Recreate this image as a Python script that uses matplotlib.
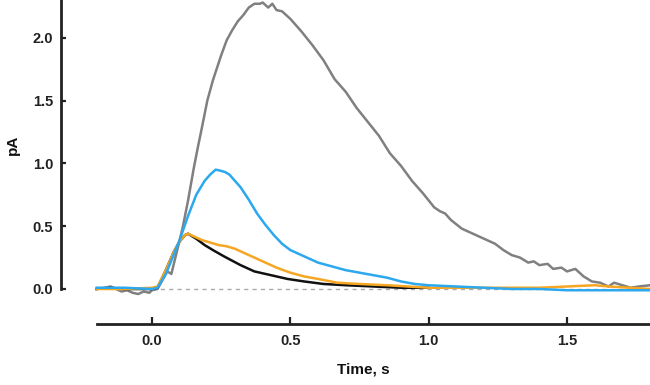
import matplotlib
matplotlib.use("Agg")
import matplotlib.pyplot as plt

# ---- data ----
gray_t = [-0.2, -0.17, -0.15, -0.13, -0.11, -0.09, -0.07, -0.05, -0.03, -0.01, 0.0, 0.02,
          0.04, 0.055, 0.07, 0.09, 0.11, 0.13, 0.15, 0.165, 0.18, 0.20, 0.22, 0.235, 0.25,
          0.27, 0.29, 0.31, 0.33, 0.35, 0.37, 0.39, 0.40, 0.41, 0.42, 0.435, 0.45, 0.47,
          0.50, 0.54, 0.58, 0.62, 0.66, 0.70, 0.74, 0.78, 0.82, 0.86, 0.90, 0.94, 0.98,
          1.02, 1.04, 1.06, 1.08, 1.12, 1.16, 1.20, 1.24, 1.27, 1.30, 1.33, 1.36, 1.38,
          1.40, 1.43, 1.45, 1.48, 1.50, 1.53, 1.56, 1.59, 1.62, 1.65, 1.67, 1.70, 1.73,
          1.76, 1.80]
gray_v = [0.0, 0.01, 0.02, 0.0, -0.02, -0.01, -0.03, -0.04, -0.02, -0.03, -0.01, 0.0,
          0.08, 0.14, 0.12, 0.30, 0.48, 0.70, 0.95, 1.12, 1.28, 1.50, 1.66, 1.76, 1.86,
          1.98, 2.06, 2.13, 2.18, 2.24, 2.27, 2.27, 2.28, 2.26, 2.24, 2.27, 2.22, 2.21,
          2.15, 2.05, 1.94, 1.82, 1.67, 1.57, 1.44, 1.33, 1.22, 1.08, 0.98, 0.86, 0.76,
          0.65, 0.62, 0.60, 0.55, 0.48, 0.44, 0.40, 0.36, 0.31, 0.27, 0.25, 0.21, 0.22,
          0.19, 0.20, 0.16, 0.17, 0.14, 0.16, 0.10, 0.06, 0.05, 0.02, 0.05, 0.03, 0.01,
          0.02, 0.03]

black_t = [-0.2, -0.15, -0.1, 0.0, 0.02, 0.05, 0.08, 0.10, 0.12, 0.13, 0.16, 0.19, 0.22,
           0.26, 0.32, 0.37, 0.43, 0.49, 0.55, 0.62, 0.70, 0.80, 0.90, 1.0]
black_v = [0.0, 0.01, 0.0, 0.0, 0.01, 0.15, 0.30, 0.38, 0.43, 0.44, 0.40, 0.35, 0.31,
           0.26, 0.19, 0.14, 0.11, 0.08, 0.06, 0.04, 0.03, 0.02, 0.01, 0.01]

orange_t = [-0.2, -0.1, 0.0, 0.02, 0.05, 0.08, 0.10, 0.12, 0.13, 0.15, 0.18, 0.21, 0.24,
            0.27, 0.30, 0.35, 0.40, 0.45, 0.50, 0.55, 0.60, 0.67, 0.75, 0.85, 1.0, 1.2,
            1.4, 1.5, 1.6, 1.65, 1.8]
orange_v = [0.0, 0.0, 0.01, 0.02, 0.15, 0.30, 0.38, 0.43, 0.44, 0.42, 0.39, 0.37, 0.35,
            0.34, 0.32, 0.27, 0.22, 0.17, 0.13, 0.10, 0.08, 0.05, 0.04, 0.03, 0.01, 0.01,
            0.01, 0.02, 0.03, 0.02, 0.0]

blue_t = [-0.2, -0.1, 0.0, 0.02, 0.05, 0.08, 0.10, 0.13, 0.16, 0.19, 0.21, 0.23, 0.25,
          0.265, 0.28, 0.30, 0.32, 0.35, 0.38, 0.41, 0.44, 0.47, 0.50, 0.55, 0.60, 0.65,
          0.70, 0.75, 0.80, 0.85, 0.90, 0.95, 1.0, 1.1, 1.2, 1.3, 1.4, 1.5, 1.6, 1.7, 1.8]
blue_v = [0.01, 0.01, 0.0, 0.01, 0.12, 0.28, 0.39, 0.58, 0.75, 0.86, 0.91, 0.95, 0.94,
          0.93, 0.91, 0.86, 0.81, 0.71, 0.60, 0.51, 0.43, 0.36, 0.31, 0.26, 0.21, 0.18,
          0.15, 0.13, 0.11, 0.09, 0.06, 0.04, 0.03, 0.02, 0.01, 0.0, 0.0, -0.01, -0.01,
          -0.01, -0.01]

x_ticks = [0.0, 0.5, 1.0, 1.5]
y_ticks = [0.0, 0.5, 1.0, 1.5, 2.0]
x_range = (-0.2, 1.8)
y_top = 2.30

plt.rcParams['font.family'] = ['Liberation Sans', 'DejaVu Sans']
plt.rcParams['font.weight'] = 'bold'

W, H = 650, 385
fig = plt.figure(figsize=(W / 100, H / 100), dpi=100)
left_px, bottom_px = 61, 324
ax = fig.add_axes([left_px / W, 1 - bottom_px / H, 1 - left_px / W, bottom_px / H])

ax.plot([0.0, 1.8], [0, 0], color='#aaaaaa', lw=1.0, ls=(0, (3, 3)), zorder=1)
ax.plot(gray_t, gray_v, color='#808080', lw=1.8, zorder=2)
ax.plot(black_t, black_v, color='#111111', lw=1.8, zorder=3)
ax.plot(orange_t, orange_v, color='#F5A623', lw=1.8, zorder=4)
ax.plot(blue_t, blue_v, color='#2BA8EE', lw=1.8, zorder=5)

# x: 276.7 px per unit, right edge at 1.8; y: 125.65 px per unit, 0 at 289 px
x_per_px = (x_range[1] - 0.0) / (650 - 152)
ax.set_xlim(x_range[1] - (W - left_px) * x_per_px, x_range[1])
y_per_px = 2.0 / (289 - 37.7)
ax.set_ylim(-(bottom_px - 289) * y_per_px, y_top)

for s in ['top', 'right']:
    ax.spines[s].set_visible(False)
ax.spines['left'].set_bounds(0, y_top)
ax.spines['bottom'].set_bounds(*x_range)
for s in ['left', 'bottom']:
    ax.spines[s].set_linewidth(2.0)
    ax.spines[s].set_color('#222222')

ax.set_xticks(x_ticks)
ax.set_yticks(y_ticks)
ax.set_xticklabels([f"{v:.1f}" for v in x_ticks])
ax.set_yticklabels([f"{v:.1f}" for v in y_ticks])
ax.tick_params(axis='both', direction='in', width=1.6, color='#222222',
               labelsize=10.5, labelcolor='#222222')
ax.tick_params(axis='x', length=5, pad=7)
ax.tick_params(axis='y', length=3.8, pad=5.5)
for lab in ax.get_xticklabels() + ax.get_yticklabels():
    lab.set_fontweight('bold')

fig.text(363 / W, 1 - 369 / H, 'Time, s', fontsize=11, fontweight='bold',
         color='#111111', ha='center', va='center')
fig.text(12.5 / W, 1 - 145 / H, 'pA', fontsize=11, fontweight='bold',
         color='#111111', ha='center', va='center', rotation=90)

fig.savefig('out.png', dpi=100)
